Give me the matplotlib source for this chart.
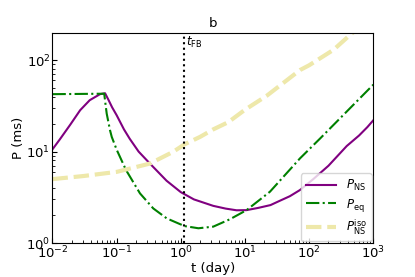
import matplotlib
matplotlib.use('Agg')
import matplotlib.pyplot as plt

# ── data (t in days, P in ms) ────────────────────────────────────────────────
t_ns = [0.01, 0.013, 0.019, 0.027, 0.038, 0.055, 0.066, 0.075, 0.085, 0.1,
        0.13, 0.16, 0.22, 0.33, 0.6, 1.0, 1.6, 3.2, 5.0, 7.4, 10.6, 16, 25,
        35, 50, 72, 116, 200, 385, 600, 806, 1000]
p_ns = [10.6, 13.6, 19.8, 28.4, 36.5, 42.5, 43.5, 36.5, 30.5, 25.0,
        17.5, 13.8, 10.0, 7.4, 4.8, 3.6, 3.0, 2.55, 2.38, 2.28, 2.29, 2.42,
        2.6, 2.9, 3.25, 3.8, 5.0, 7.0, 11.5, 15.0, 18.5, 22.0]

t_eq = [0.01, 0.064, 0.067, 0.07, 0.0787, 0.0838, 0.1, 0.14, 0.231, 0.372,
        0.603, 0.97, 1.16, 1.88, 3.2, 5.83, 10.6, 24.5, 72, 148, 1000]
p_eq = [42.5, 43.0, 33.0, 26.0, 17.2, 14.5, 10.5, 6.28, 3.49, 2.39,
        1.86, 1.61, 1.53, 1.45, 1.51, 1.82, 2.29, 3.64, 8.43, 13.9, 54.0]

t_iso = [0.01, 0.03, 0.1, 0.33, 0.76, 1.14, 2.0, 3.2, 5.5, 10, 22, 72,
         100, 240, 460, 1000]
p_iso = [5.0, 5.4, 6.0, 7.4, 9.95, 12.0, 14.5, 17.5, 21.0, 28.7, 41, 78,
         88, 130, 196, 290]

t_fb = 1.14

fig = plt.figure(figsize=(4.15, 2.77), dpi=100)
ax = fig.add_axes([0.1265, 0.1227, 0.773, 0.7593])

ax.plot(t_ns, p_ns, color='purple', lw=1.5, label=r'$P_{\rm NS}$')
ax.plot(t_eq, p_eq, color='green', lw=1.5, ls='-.', label=r'$P_{\rm eq}$')
ax.plot(t_iso, p_iso, color='palegoldenrod', lw=3, ls=(0, (3.7, 1.4)),
        label=r'$P_{\rm NS}^{\rm iso}$')
ax.axvline(t_fb, color='black', ls=':', lw=1.5)
ax.text(t_fb * 1.04, 188, r'$t_{\rm FB}$', fontsize=8.5, va='top', ha='left')

ax.set_xscale('log')
ax.set_yscale('log')
ax.set_xlim(1e-2, 1e3)
ax.set_ylim(1, 200)
ax.tick_params(which='both', direction='in', labelsize=9.5, pad=1.5)
ax.set_xlabel('t (day)', fontsize=9.5, labelpad=0)
ax.set_ylabel('P (ms)', fontsize=9.5, labelpad=1)
ax.set_title('b', fontsize=9.5, pad=4)
ax.legend(loc='lower right', fontsize=8.5, handlelength=2.6,
          borderaxespad=0.15, labelspacing=0.3)

fig.savefig('out.png', dpi=100)
